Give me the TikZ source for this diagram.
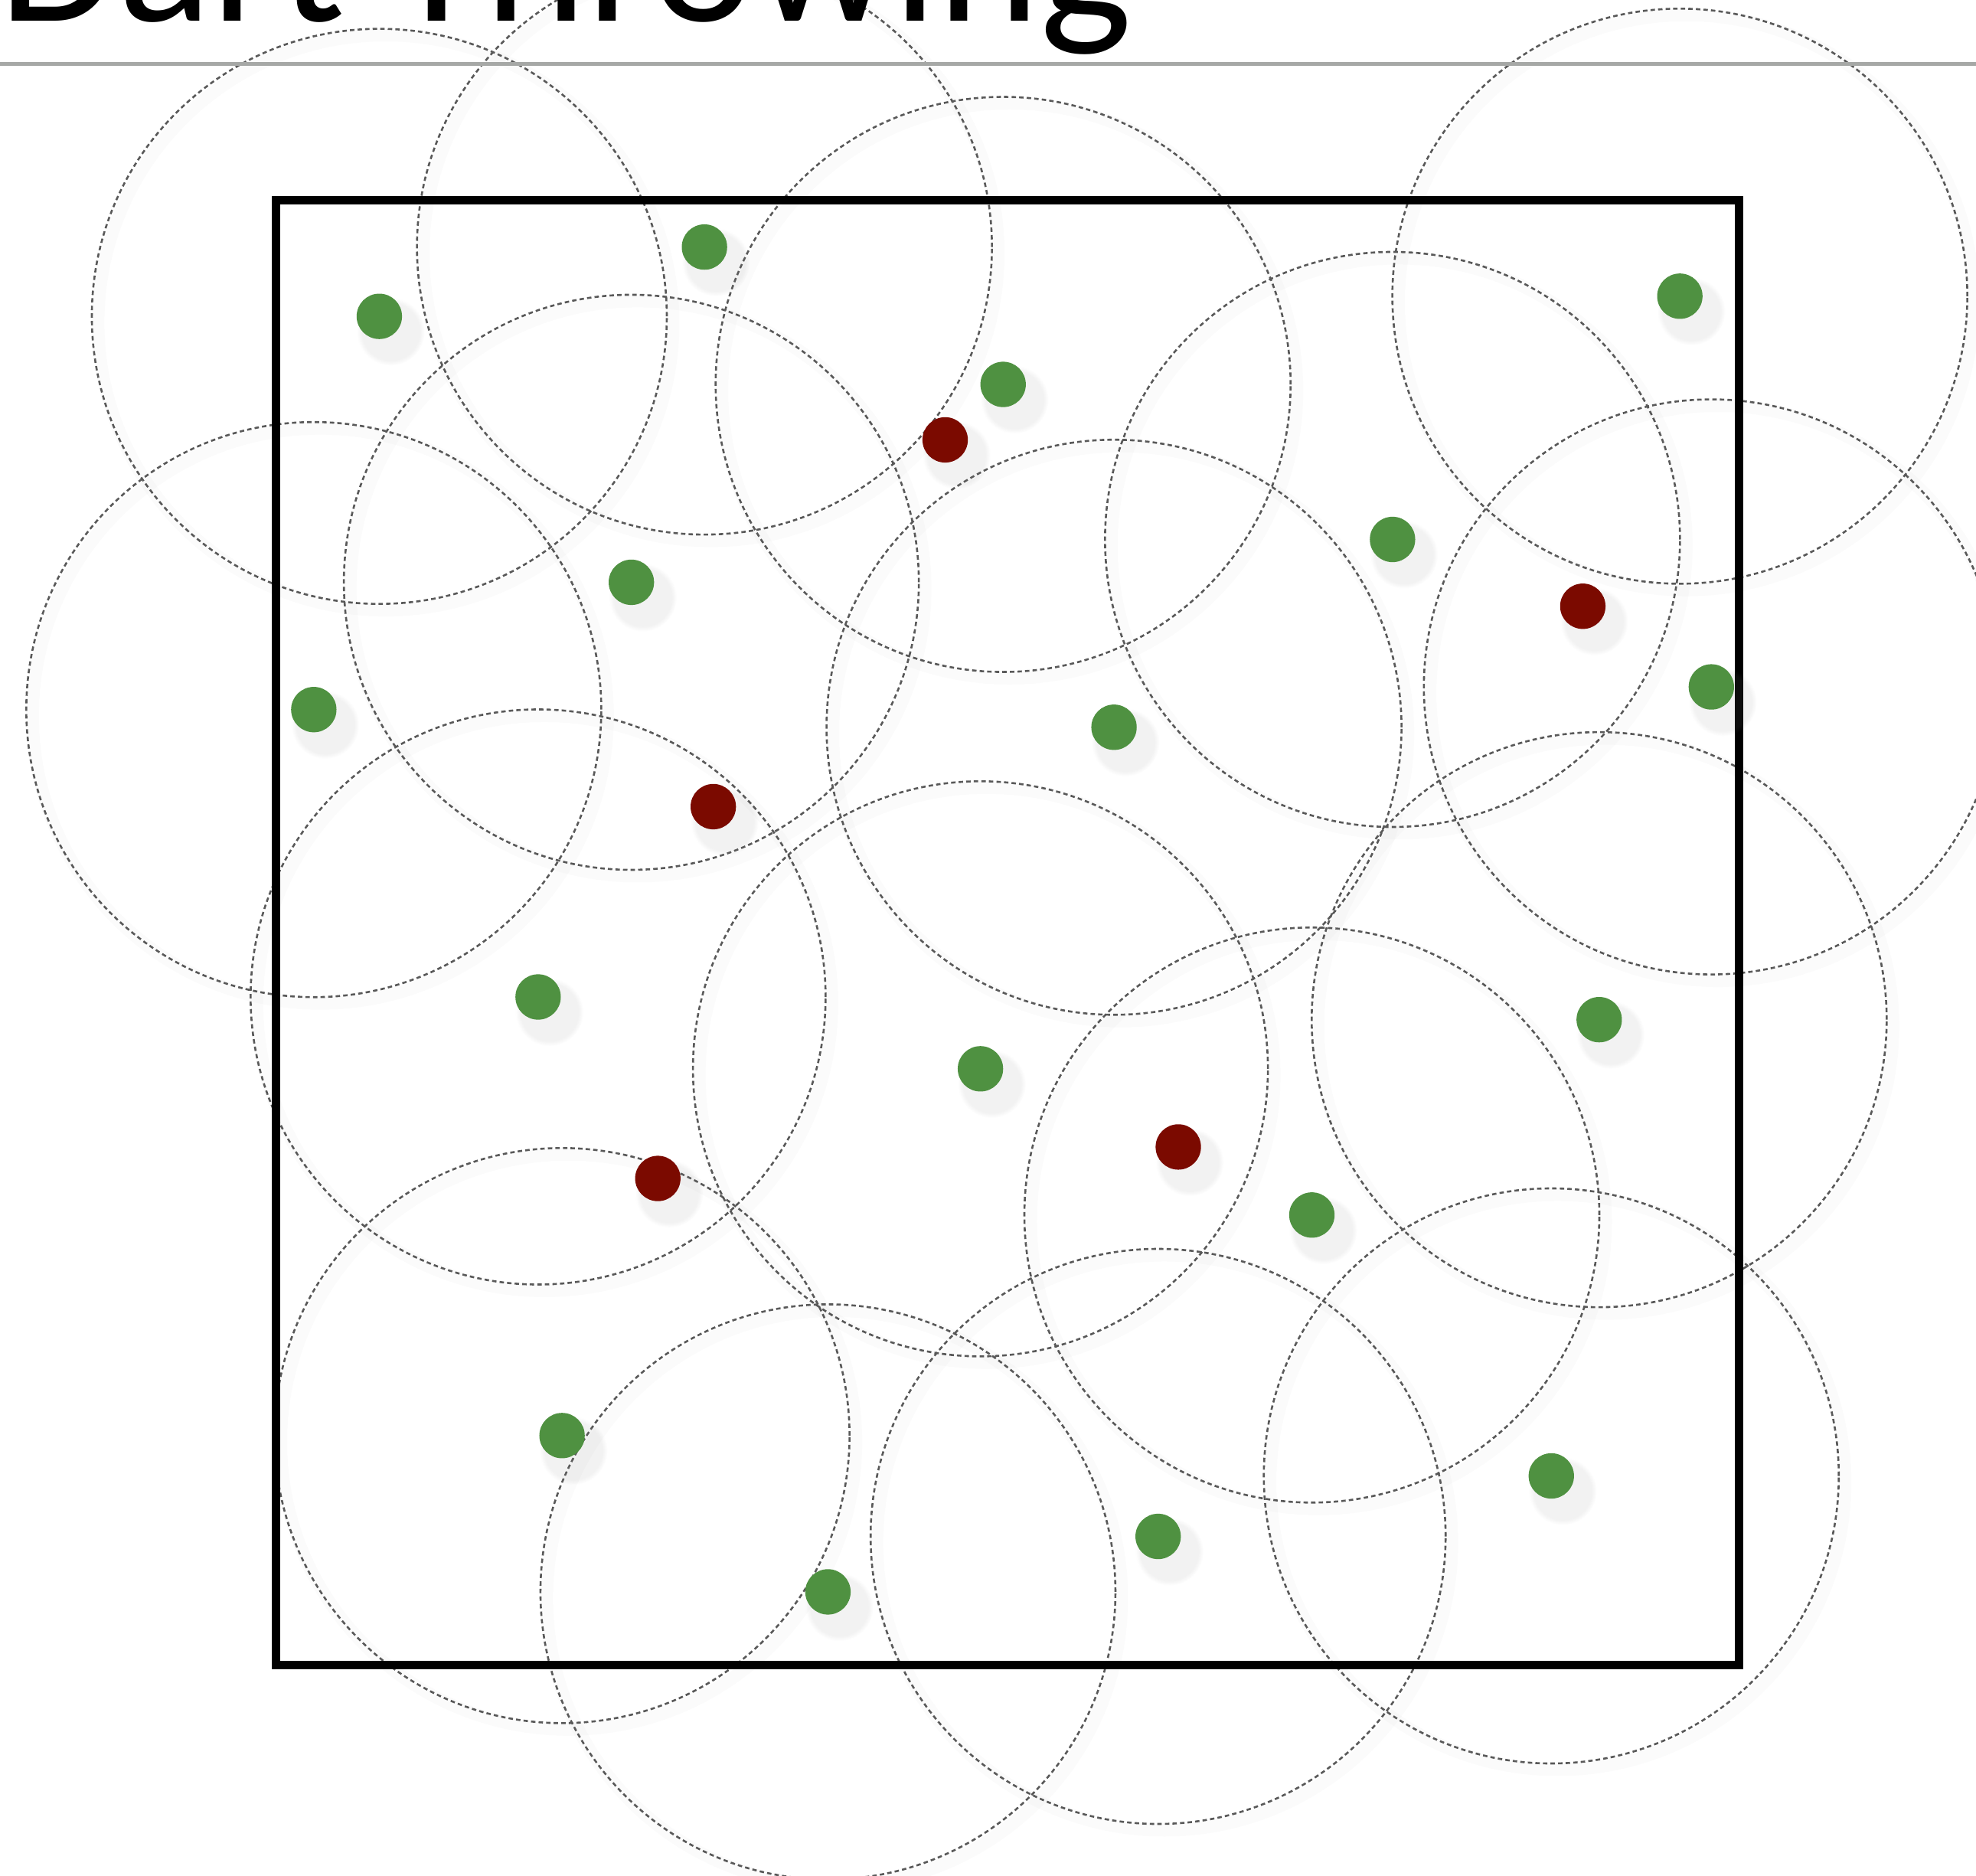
\documentclass[tikz,border=0pt]{standalone}
\usepackage{fontspec}
\setmainfont{Carlito}
\usetikzlibrary{shadows,backgrounds}
\definecolor{dartgreen}{RGB}{79,145,65}
\definecolor{dartred}{RGB}{123,10,0}
\definecolor{rulegrey}{RGB}{166,168,166}
\tikzset{
    hit/.style={
        circle,
        fill=dartgreen,
        inner sep=0pt,
        minimum size=0.36cm,
        circular drop shadow={shadow xshift=0.06cm, shadow yshift=-0.08cm,
            shadow scale=1.5, opacity=0.10}
    },
    miss/.style={
        hit,
        fill=dartred
    },
    reach/.style={
        draw=black!65,
        line width=0.45pt,
        dash pattern=on 0.035cm off 0.025cm
    },
    reachshade/.style={
        draw=black,
        opacity=0.015,
        line width=0.1cm
    }
}

\begin{document}
\begin{tikzpicture}[x=0.01cm, y=-0.01cm]

\useasboundingbox (0,0) rectangle (1568,1488);

% TITLE
\node[anchor=base east, inner sep=0pt, font=\fontsize{44}{48}\selectfont] (title) at (899,17)
{Dart Throwing};
\draw[rulegrey, line width=0.03cm] (0,51) -- (1568,51);

% DOMAIN
\draw[line width=0.07cm] (219,159) rectangle (1380,1321);

% ACCEPTED DARTS
\node[hit] (g1) at (301,251) {};
\node[hit] (g2) at (559,196) {};
\node[hit] (g3) at (796,305) {};
\node[hit] (g4) at (1333,235) {};
\node[hit] (g5) at (1105,428) {};
\node[hit] (g6) at (501,462) {};
\node[hit] (g7) at (249,563) {};
\node[hit] (g8) at (884,577) {};
\node[hit] (g9) at (1358,545) {};
\node[hit] (g10) at (427,791) {};
\node[hit] (g11) at (778,848) {};
\node[hit] (g12) at (1269,809) {};
\node[hit] (g13) at (1041,964) {};
\node[hit] (g14) at (446,1139) {};
\node[hit] (g15) at (657,1263) {};
\node[hit] (g16) at (919,1219) {};
\node[hit] (g17) at (1231,1171) {};

% REJECTED DARTS
\node[miss] (r1) at (750,349) {};
\node[miss] (r2) at (1256,481) {};
\node[miss] (r3) at (566,640) {};
\node[miss] (r4) at (522,935) {};
\node[miss] (r5) at (935,910) {};

% EXCLUSION DISKS
\begin{scope}[on background layer]
\foreach \d in {g1,g2,g3,g4,g5,g6,g7,g8,g9,g10,g11,g12,g13,g14,g15,g16,g17}
{
    \draw[reachshade] ([shift={(5,5)}]\d.center) circle[radius=2.28cm];
    \draw[reach] (\d.center) circle[radius=2.28cm];
}
\end{scope}

\end{tikzpicture}
\end{document}
